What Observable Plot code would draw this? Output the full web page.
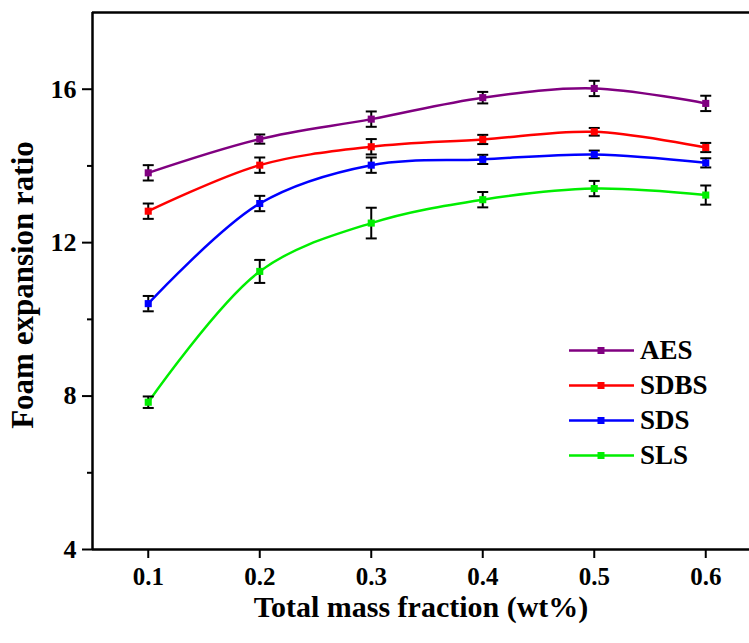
<!DOCTYPE html>
<html>
<head>
<meta charset="utf-8">
<script src="https://cdn.jsdelivr.net/npm/d3@7"></script>
<script src="https://cdn.jsdelivr.net/npm/@observablehq/plot@0.6"></script>
<style>
  body { margin: 0; background: white; overflow: hidden; }
  #wrap { position: relative; width: 749px; height: 643px; }
  #legend { position: absolute; left: 569px; top: 333px; font-family: "Liberation Serif", "Times New Roman", serif; font-weight: bold; font-size: 27px; }
  .row { display: flex; align-items: center; height: 35px; }
  .row span { margin-left: 6px; line-height: 35px; color: black; }
</style>
</head>
<body>
<div id="wrap"></div>
<script>
const fractions = [0.1, 0.2, 0.3, 0.4, 0.5, 0.6];
const seriesNames = ["AES", "SDBS", "SDS", "SLS"];
const seriesColors = ["#800080", "#ff0000", "#0000ff", "#00ee00"];
const aes = [13.82, 14.70, 15.22, 15.78, 16.02, 15.63];
const aesErr = [0.2, 0.12, 0.2, 0.15, 0.2, 0.2];
const sdbs = [12.82, 14.02, 14.50, 14.69, 14.89, 14.48];
const sdbsErr = [0.2, 0.2, 0.2, 0.12, 0.1, 0.12];
const sds = [10.41, 13.02, 14.02, 14.17, 14.30, 14.08];
const sdsErr = [0.2, 0.2, 0.2, 0.12, 0.1, 0.12];
const sls = [7.84, 11.25, 12.51, 13.12, 13.41, 13.24];
const slsErr = [0.15, 0.3, 0.4, 0.2, 0.2, 0.25];
const yMajorTicks = [4, 8, 12, 16];
const yMinorTicks = [6, 10, 14];
const xTicks = [0.1, 0.2, 0.3, 0.4, 0.5, 0.6];
const xTitle = "Total mass fraction (wt%)";
const yTitle = "Foam expansion ratio";

const values = [aes, sdbs, sds, sls];
const errors = [aesErr, sdbsErr, sdsErr, slsErr];
const data = [];
seriesNames.forEach((s, i) => {
  fractions.forEach((f, j) => {
    data.push({series: s, x: f, y: values[i][j], lo: values[i][j] - errors[i][j], hi: values[i][j] + errors[i][j]});
  });
});

const cap = {
  draw(ctx, size) {
    const r = Math.sqrt(size / Math.PI);
    ctx.moveTo(-r, 0);
    ctx.lineTo(r, 0);
  }
};

const font = "'Liberation Serif', 'Times New Roman', serif";

const chart = Plot.plot({
  width: 749,
  height: 643,
  marginLeft: 92,
  marginRight: 0,
  marginTop: 12,
  marginBottom: 94,
  style: {fontFamily: font, color: "black", background: "white", overflow: "hidden"},
  x: {domain: [0.05, 0.65], range: [92, 761]},
  y: {domain: [4, 18]},
  color: {domain: seriesNames, range: seriesColors},
  marks: [
    Plot.axisY({ticks: yMajorTicks, tickSize: 10, tickPadding: 6, tickFormat: d => String(d), fontSize: 26, fontWeight: "bold", strokeWidth: 2, label: null}),
    Plot.axisY({ticks: yMinorTicks, tickSize: 5, tickFormat: () => "", strokeWidth: 2, label: null}),
    Plot.axisX({ticks: xTicks, tickSize: 9, tickPadding: 9, tickFormat: d3.format(".1f"), fontSize: 25, fontWeight: "bold", strokeWidth: 2, label: null}),
    Plot.ruleX([0.05], {stroke: "black", strokeWidth: 2.5}),
    Plot.ruleY([4], {stroke: "black", strokeWidth: 2.5}),
    Plot.ruleY([18], {stroke: "black", strokeWidth: 2.5}),
    Plot.line(data, {x: "x", y: "y", z: "series", stroke: "series", strokeWidth: 2.5, curve: "catmull-rom"}),
    Plot.ruleX(data, {x: "x", y1: "lo", y2: "hi", stroke: "black", strokeWidth: 2}),
    Plot.dot(data, {x: "x", y: "lo", symbol: cap, r: 5.5, stroke: "black", strokeWidth: 2, fill: "none"}),
    Plot.dot(data, {x: "x", y: "hi", symbol: cap, r: 5.5, stroke: "black", strokeWidth: 2, fill: "none"}),
    Plot.dot(data, {x: "x", y: "y", symbol: "square", r: 4, fill: "series", stroke: "none"}),
    Plot.text([xTitle], {frameAnchor: "bottom", dy: 58, lineAnchor: "middle", fontSize: 30, fontWeight: "bold", fill: "black"}),
    Plot.text([yTitle], {frameAnchor: "left", dx: -69, dy: 4, rotate: -90, lineAnchor: "middle", textAnchor: "middle", fontSize: 31, fontWeight: "bold", fill: "black"})
  ]
});

const wrap = document.getElementById("wrap");
wrap.appendChild(chart);

const legend = document.createElement("div");
legend.id = "legend";
seriesNames.forEach((s, i) => {
  const row = document.createElement("div");
  row.className = "row";
  row.innerHTML = `<svg width="65" height="35"><line x1="0" y1="17.5" x2="65" y2="17.5" stroke="${seriesColors[i]}" stroke-width="2.5"/><rect x="28.5" y="14" width="7" height="7" fill="${seriesColors[i]}"/></svg><span>${s}</span>`;
  legend.appendChild(row);
});
wrap.appendChild(legend);
</script>
</body>
</html>
